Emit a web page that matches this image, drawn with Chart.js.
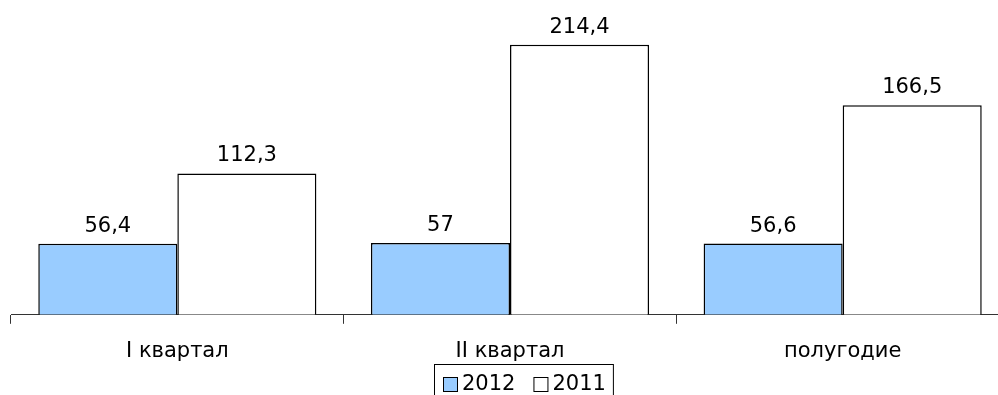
<!DOCTYPE html>
<html>
<head>
<meta charset="utf-8">
<script src="https://cdn.jsdelivr.net/npm/chart.js@4.4.0/dist/chart.umd.min.js"></script>
<style>
  html, body { margin: 0; padding: 0; background: #fff; overflow: hidden; }
  #wrap { position: relative; width: 1010px; height: 395px; }
</style>
</head>
<body>
<div id="wrap"><canvas id="periodChart"></canvas></div>
<script>
// Quarterly comparison, 2012 vs 2011

const categories = ['I квартал', 'II квартал', 'полугодие'];
const values2012 = [56.4, 57, 56.6];
const values2011 = [112.3, 214.4, 166.5];
const seriesLabels = ['2012', '2011'];

const fontFamily = '"DejaVu Sans", sans-serif';

function fmt(v) {
  return String(v).replace('.', ',');
}

// value labels above each bar
const valueLabels = {
  id: 'valueLabels',
  afterDatasetsDraw(chart) {
    const ctx = chart.ctx;
    ctx.save();
    ctx.font = '21px ' + fontFamily;
    ctx.fillStyle = '#000';
    ctx.textAlign = 'center';
    ctx.textBaseline = 'alphabetic';
    chart.data.datasets.forEach((ds, i) => {
      chart.getDatasetMeta(i).data.forEach((bar, j) => {
        ctx.fillText(fmt(ds.data[j]), bar.x, bar.y - 12);
      });
    });
    ctx.restore();
  }
};

// boxed legend under the axis
const boxLegend = {
  id: 'boxLegend',
  afterDraw(chart) {
    const ctx = chart.ctx;
    ctx.save();
    ctx.font = '21px ' + fontFamily;
    ctx.textBaseline = 'middle';
    const sq = 14, gap = 5, itemGap = 18, padL = 9, padR = 7;
    const items = chart.data.datasets.map(ds => ({
      label: ds.label, color: ds.backgroundColor, w: sq + gap + ctx.measureText(ds.label).width
    }));
    const total = items.reduce((s, it) => s + it.w, 0) + itemGap * (items.length - 1) + padL + padR;
    const left = 434, top = 364, h = 40;
    ctx.strokeStyle = '#000';
    ctx.lineWidth = 1;
    ctx.strokeRect(left + 0.5, top + 0.5, total, h);
    let x = left + padL;
    const cy = 384;
    items.forEach(it => {
      ctx.fillStyle = it.color;
      ctx.fillRect(x + 0.5, cy - sq / 2 + 0.5, sq, sq);
      ctx.strokeStyle = '#000';
      ctx.strokeRect(x + 0.5, cy - sq / 2 + 0.5, sq, sq);
      ctx.fillStyle = '#000';
      ctx.textAlign = 'left';
      ctx.fillText(it.label, x + sq + gap, cy + 1);
      x += it.w + itemGap;
    });
    ctx.restore();
  }
};

new Chart(document.getElementById('periodChart'), {
  type: 'bar',
  data: {
    labels: categories,
    datasets: [{
      label: seriesLabels[0],
      data: values2012,
      backgroundColor: '#99CCFF',
      borderColor: '#000',
      borderWidth: 1.5,
      categoryPercentage: 0.836,
      barPercentage: 1.0
    }, {
      label: seriesLabels[1],
      data: values2011,
      backgroundColor: '#FFFFFF',
      borderColor: '#000',
      borderWidth: 1.5,
      categoryPercentage: 0.836,
      barPercentage: 1.0
    }]
  },
  options: {
    responsive: true,
    maintainAspectRatio: false,
    animation: false,
    layout: {
      padding: { left: 11, right: 1, top: 0, bottom: 16 }
    },
    scales: {
      x: {
        grid: {
          offset: true,
          drawOnChartArea: false,
          tickLength: 9,
          color: '#333'
        },
        border: { color: '#333', width: 1 },
        ticks: {
          color: '#000',
          padding: 15,
          font: { family: fontFamily, size: 21 }
        }
      },
      y: {
        display: false,
        min: 0,
        max: 250
      }
    },
    plugins: {
      legend: { display: false },
      tooltip: { enabled: false }
    }
  },
  plugins: [valueLabels, boxLegend]
});
</script>
</body>
</html>
